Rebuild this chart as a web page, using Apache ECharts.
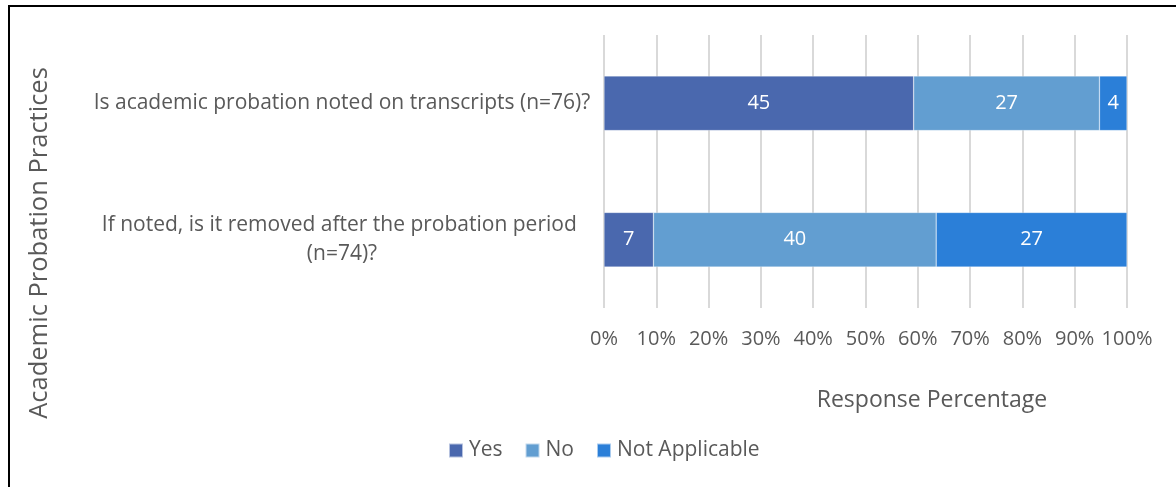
<!DOCTYPE html>
<html>
<head>
<meta charset="utf-8">
<script src="https://cdn.jsdelivr.net/npm/echarts@6/dist/echarts.min.js"></script>
<style>
  html, body { margin: 0; padding: 0; background: #fff; }
  #chart { width: 1176px; height: 487px; }
</style>
</head>
<body>
<div id="chart"></div>
<script>
// questions, top to bottom
const questions = [
  'Is academic probation noted on transcripts (n=76)?',
  'If noted, is it removed after the probation period (n=74)?'
];
const totals = [76, 74];
const seriesNames = ['Yes', 'No', 'Not Applicable'];
// response counts per question
const yesCounts = [45, 7];
const noCounts = [27, 40];
const naCounts = [4, 27];
const tickLabels = ['0%', '10%', '20%', '30%', '40%', '50%', '60%', '70%', '80%', '90%', '100%'];
const colors = ['#4A68AE', '#629ED1', '#2B7FD8'];

const textColor = '#595959';
const font = 'Open Sans';

function toSeries(name, counts, i) {
  return {
    name: name,
    type: 'bar',
    stack: 'total',
    barWidth: '40%',
    itemStyle: { color: colors[i], borderColor: 'rgba(255,255,255,0.6)', borderWidth: 0.5 },
    label: {
      show: true,
      position: 'inside',
      color: '#fff',
      fontFamily: font,
      fontSize: 20,
      formatter: p => String(p.data.count)
    },
    data: counts.map((c, k) => ({ value: c / totals[k] * 100, count: c }))
  };
}

const chart = echarts.init(document.getElementById('chart'));
chart.setOption({
  animation: false,
  textStyle: { fontFamily: font },
  grid: { left: 604, right: 49, top: 35, bottom: 179, containLabel: false },
  legend: {
    left: 448,
    top: 440,
    padding: 0,
    itemWidth: 14,
    itemHeight: 14,
    itemGap: 22,
    icon: 'rect',
    textStyle: { color: textColor, fontSize: 21, fontFamily: font, padding: [0, 0, 0, 1] },
    data: seriesNames
  },
  xAxis: {
    type: 'value',
    min: 0,
    max: 100,
    interval: 10,
    axisLine: { show: false },
    axisTick: { show: false },
    splitLine: { lineStyle: { color: '#D9D9D9', width: 2 } },
    axisLabel: {
      color: textColor,
      fontSize: 20,
      fontFamily: font,
      margin: 21,
      formatter: v => tickLabels[Math.round(v / 10)]
    }
  },
  yAxis: {
    type: 'category',
    inverse: true,
    data: questions,
    axisLine: { show: false },
    axisTick: { show: false },
    axisLabel: {
      color: textColor,
      fontSize: 21,
      fontFamily: font,
      align: 'center',
      margin: 262,
      width: 505,
      overflow: 'break',
      lineHeight: 29
    }
  },
  graphic: [
    { type: 'line', shape: { x1: 9, y1: 6, x2: 1176, y2: 6 }, style: { stroke: '#000', lineWidth: 2 } },
    { type: 'line', shape: { x1: 9, y1: 5, x2: 9, y2: 487 }, style: { stroke: '#000', lineWidth: 2 } },
    {
      type: 'text',
      x: 40,
      y: 243,
      rotation: Math.PI / 2,
      style: {
        text: 'Academic Probation Practices',
        fill: textColor,
        font: '25.5px "Open Sans"',
        textAlign: 'center',
        textVerticalAlign: 'middle'
      }
    },
    {
      type: 'text',
      x: 932,
      y: 400,
      style: {
        text: 'Response Percentage',
        fill: textColor,
        font: '23px "Open Sans"',
        textAlign: 'center',
        textVerticalAlign: 'middle'
      }
    }
  ],
  series: [
    toSeries(seriesNames[0], yesCounts, 0),
    toSeries(seriesNames[1], noCounts, 1),
    toSeries(seriesNames[2], naCounts, 2)
  ]
});
</script>
</body>
</html>
